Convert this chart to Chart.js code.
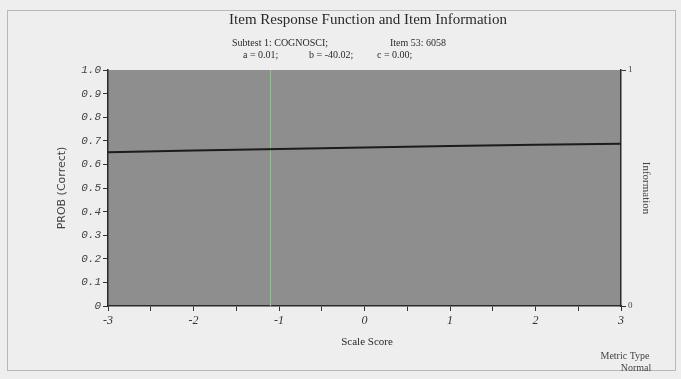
<!DOCTYPE html>
<html>
<head>
<meta charset="utf-8">
<script src="https://cdn.jsdelivr.net/npm/chart.js@4/dist/chart.umd.min.js"></script>
<style>
  html, body { margin: 0; padding: 0; background: #eeeeee; }
  #wrap { width: 681px; height: 379px; position: relative; }
</style>
</head>
<body>
<div id="wrap"><canvas id="irf" width="681" height="379"></canvas></div>
<script>
// Item response curve read at whole scale-score steps
const scaleScores = [-3, -2, -1, 0, 1, 2, 3];
const probCorrect = [0.652, 0.659, 0.665, 0.672, 0.678, 0.683, 0.687];

// Vertical reference marker on the scale-score axis
const markerScore = [-1.1, -1.1];
const markerProb = [0, 1];

// Text
const titleText = 'Item Response Function and Item Information';
const subtestText = 'Subtest 1: COGNOSCI;';
const itemText = 'Item 53: 6058';
const paramA = 'a = 0.01;';
const paramB = 'b = -40.02;';
const paramC = 'c = 0.00;';
const yTitle = 'PROB (Correct)';
const y2Title = 'Information';
const xTitle = 'Scale Score';
const metricLabel = 'Metric Type';
const metricValue = 'Normal';

const curvePoints = scaleScores.map((s, i) => ({ x: s, y: probCorrect[i] }));
const markerPoints = markerScore.map((s, i) => ({ x: s, y: markerProb[i] }));

const decor = {
  id: 'decor',
  beforeDraw(chart) {
    const { ctx, chartArea: a } = chart;
    ctx.save();
    // outer frame
    ctx.strokeStyle = '#b8b8b8';
    ctx.lineWidth = 1;
    ctx.strokeRect(7.5, 10.5, 668, 360);
    // plot background
    ctx.fillStyle = '#8e8e8e';
    ctx.fillRect(a.left, a.top, a.right - a.left, a.bottom - a.top);
    ctx.restore();
  },
  afterDraw(chart) {
    const { ctx, chartArea: a } = chart;
    ctx.save();
    ctx.fillStyle = '#2a2a2a';
    ctx.textBaseline = 'middle';
    ctx.textAlign = 'center';
    ctx.font = '15px "Liberation Serif", serif';
    ctx.fillText(titleText, 368, 20);

    ctx.font = '10px "Liberation Serif", serif';
    ctx.textAlign = 'left';
    ctx.fillText(subtestText, 232, 43);
    ctx.fillText(itemText, 390, 43);
    ctx.fillText(paramA, 243, 55);
    ctx.fillText(paramB, 309, 55);
    ctx.fillText(paramC, 377, 55);

    // axis titles
    ctx.textAlign = 'center';
    ctx.font = '11px "Liberation Serif", serif';
    ctx.fillText(xTitle, 367, 342);

    ctx.save();
    ctx.translate(62, (a.top + a.bottom) / 2);
    ctx.rotate(-Math.PI / 2);
    ctx.font = '11px "DejaVu Sans", sans-serif';
    ctx.fillStyle = '#444';
    ctx.fillText(yTitle, 0, 0);
    ctx.restore();

    ctx.save();
    ctx.translate(646, (a.top + a.bottom) / 2);
    ctx.rotate(Math.PI / 2);
    ctx.font = '11px "Liberation Serif", serif';
    ctx.fillStyle = '#444';
    ctx.fillText(y2Title, 0, 0);
    ctx.restore();

    ctx.font = '10px "Liberation Serif", serif';
    ctx.fillStyle = '#444';
    ctx.fillText(metricLabel, 625, 356);
    ctx.fillText(metricValue, 636, 368);
    ctx.restore();
  }
};

new Chart(document.getElementById('irf'), {
  type: 'line',
  data: {
    datasets: [
      {
        data: curvePoints,
        borderColor: '#1c1c1c',
        borderWidth: 2,
        pointRadius: 0,
        tension: 0,
        yAxisID: 'y'
      },
      {
        data: markerPoints,
        borderColor: '#86cc86',
        borderWidth: 1,
        pointRadius: 0,
        yAxisID: 'y'
      }
    ]
  },
  options: {
    responsive: false,
    animation: false,
    layout: { padding: { top: 70, left: 0, right: 0, bottom: 0 } },
    plugins: {
      legend: { display: false },
      tooltip: { enabled: false },
      title: { display: false }
    },
    scales: {
      x: {
        type: 'linear',
        min: -3,
        max: 3,
        afterFit(s) { s.height = 73; },
        border: { display: true, color: '#2a2a2a', width: 1.5 },
        grid: { drawOnChartArea: false, drawTicks: true, tickLength: 5, color: '#333' },
        ticks: {
          stepSize: 0.5,
          autoSkip: false,
          maxRotation: 0,
          padding: 3,
          color: '#333',
          font: { family: '"Liberation Serif", serif', size: 12, style: 'italic' },
          callback: (v) => Number.isInteger(v) ? String(v) : ''
        }
      },
      y: {
        position: 'left',
        min: 0,
        max: 1,
        afterFit(s) { s.width = 108; },
        border: { display: true, color: '#2a2a2a', width: 1.5 },
        grid: { drawOnChartArea: false, drawTicks: true, tickLength: 5, color: '#333' },
        ticks: {
          stepSize: 0.1,
          padding: 2,
          color: '#444',
          font: { family: '"Liberation Mono", monospace', size: 11, style: 'italic' },
          callback: (v) => {
            const r = Math.round(v * 10) / 10;
            if (r === 0) return '0';
            return r.toFixed(1);
          }
        }
      },
      y2: {
        position: 'right',
        min: 0,
        max: 1,
        afterFit(s) { s.width = 60; },
        border: { display: true, color: '#2a2a2a', width: 1.5 },
        grid: { drawOnChartArea: false, drawTicks: true, tickLength: 5, color: '#333' },
        ticks: {
          stepSize: 1,
          padding: 2,
          color: '#444',
          font: { family: '"Liberation Serif", serif', size: 9 },
          callback: (v) => String(v)
        }
      }
    }
  },
  plugins: [decor]
});
</script>
</body>
</html>
